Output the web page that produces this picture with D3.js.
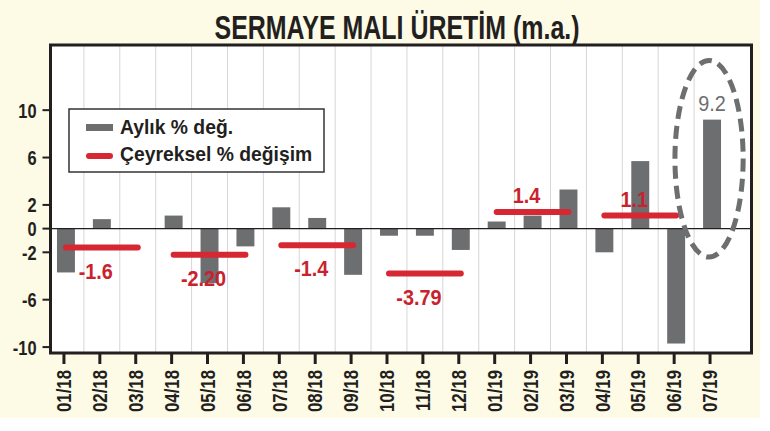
<!DOCTYPE html>
<html>
<head>
<meta charset="utf-8">
<script src="https://cdn.jsdelivr.net/npm/d3@7"></script>
<style>
  html, body { margin: 0; padding: 0; background: #ffffff; }
  svg { display: block; }
</style>
</head>
<body>
<svg id="chart" width="770" height="431"></svg>
<script>
// ---- data ----
const title = "SERMAYE MALI ÜRETİM (m.a.)";
const months = ["01/18","02/18","03/18","04/18","05/18","06/18","07/18","08/18","09/18",
                "10/18","11/18","12/18","01/19","02/19","03/19","04/19","05/19","06/19","07/19"];
const monthlyChange = [-3.7, 0.8, 0, 1.1, -4.6, -1.5, 1.8, 0.9, -3.9,
                       -0.6, -0.6, -1.8, 0.6, 1.1, 3.3, -2.0, 5.7, -9.7, 9.2];
const quarterStart = ["01/18","04/18","07/18","10/18","01/19","04/19"];
const quarterEnd   = ["03/18","06/18","09/18","12/18","03/19","06/19"];
const quarterValue = [-1.6, -2.2, -1.4, -3.79, 1.4, 1.1];
const quarterLabel = ["-1.6", "-2.20", "-1.4", "-3.79", "1.4", "1.1"];
const yTicks = [10, 6, 2, 0, -2, -6, -10];
const legendLabels = ["Aylık % değ.", "Çeyreksel % değişim"];
const highlightMonth = "07/19";
const highlightLabel = "9.2";
const highlightSpan = [14.2, -2.4]; // ellipse extent in data units

// ---- layout ----
const svg = d3.select("#chart");
const frame = { left: 50.5, right: 751.5, top: 45, bottom: 353 };
const GRAY = "#6d6e70", RED = "#d62832", REDTXT = "#c9222d", INK = "#231f20";
const sans = "'Liberation Sans', Arial, sans-serif";

// condense text horizontally (narrow display face look)
function condense(sel, f) {
  sel.each(function () {
    const w = this.getComputedTextLength();
    d3.select(this).attr("textLength", w * f).attr("lengthAdjust", "spacingAndGlyphs");
  });
}

svg.append("rect").attr("x", 0).attr("y", 0).attr("width", 760).attr("height", 418)
   .attr("fill", "#fdfae6");

const x = d3.scaleBand().domain(months).range([48, 730]).paddingInner(0.5).paddingOuter(0.25);
const y = d3.scaleLinear().domain([-10.5, 15.5]).range([frame.bottom, frame.top]);
const cx = m => x(m) + x.bandwidth() / 2;

// plot background
svg.append("rect")
  .attr("x", frame.left).attr("y", frame.top)
  .attr("width", frame.right - frame.left).attr("height", frame.bottom - frame.top)
  .attr("fill", "#ffffff");

// vertical gridlines between months
svg.append("g").selectAll("line")
  .data(months.slice(1))
  .join("line")
  .attr("x1", d => x(d) - x.step() * x.paddingInner() / 2)
  .attr("x2", d => x(d) - x.step() * x.paddingInner() / 2)
  .attr("y1", frame.top).attr("y2", frame.bottom)
  .attr("stroke", "#d6d6d6").attr("stroke-width", 1);

// bars
svg.append("g").selectAll("rect")
  .data(months.map((m, i) => ({ m, v: monthlyChange[i] })))
  .join("rect")
  .attr("x", d => x(d.m))
  .attr("width", x.bandwidth())
  .attr("y", d => y(Math.max(0, d.v)))
  .attr("height", d => Math.abs(y(d.v) - y(0)))
  .attr("fill", GRAY);

// zero line
svg.append("line")
  .attr("x1", frame.left).attr("x2", frame.right)
  .attr("y1", y(0)).attr("y2", y(0))
  .attr("stroke", INK).attr("stroke-width", 1.2);

// quarterly lines
const quarters = quarterValue.map((v, i) => ({ s: quarterStart[i], e: quarterEnd[i], v, label: quarterLabel[i],
  mid: months[months.indexOf(quarterStart[i]) + 1] }));
svg.append("g").selectAll("line")
  .data(quarters)
  .join("line")
  .attr("x1", d => cx(d.s)).attr("x2", d => cx(d.e))
  .attr("y1", d => y(d.v)).attr("y2", d => y(d.v))
  .attr("stroke", RED).attr("stroke-width", 6).attr("stroke-linecap", "round");

svg.append("g").selectAll("text")
  .data(quarters)
  .join("text")
  .attr("x", d => cx(d.mid) - 6)
  .attr("y", d => d.v < 0 ? y(d.v) + 31 : y(d.v) - 9)
  .attr("text-anchor", "middle")
  .attr("font-family", sans).attr("font-weight", "bold").attr("font-size", 22)
  .attr("fill", REDTXT)
  .text(d => d.label)
  .call(condense, 0.9);

// highlight ellipse and label
const hv = monthlyChange[months.indexOf(highlightMonth)];
svg.append("text")
  .attr("x", cx(highlightMonth)).attr("y", y(hv) - 9)
  .attr("text-anchor", "middle")
  .attr("font-family", sans).attr("font-size", 22)
  .attr("fill", GRAY)
  .text(highlightLabel)
  .call(condense, 0.9);
svg.append("ellipse")
  .attr("cx", cx(highlightMonth) - 3)
  .attr("cy", (y(highlightSpan[0]) + y(highlightSpan[1])) / 2)
  .attr("rx", x.step() * 0.95)
  .attr("ry", (y(highlightSpan[1]) - y(highlightSpan[0])) / 2)
  .attr("fill", "none").attr("stroke", GRAY).attr("stroke-width", 5)
  .attr("stroke-dasharray", "13 7");

// frame
svg.append("rect")
  .attr("x", frame.left).attr("y", frame.top)
  .attr("width", frame.right - frame.left).attr("height", frame.bottom - frame.top)
  .attr("fill", "none").attr("stroke", INK).attr("stroke-width", 3);

// y axis ticks and labels
const yg = svg.append("g");
yg.selectAll("line").data(yTicks).join("line")
  .attr("x1", frame.left - 8).attr("x2", frame.left)
  .attr("y1", d => y(d)).attr("y2", d => y(d))
  .attr("stroke", INK).attr("stroke-width", 2);
yg.selectAll("text").data(yTicks).join("text")
  .attr("x", frame.left - 14).attr("y", d => y(d)).attr("dy", "0.36em")
  .attr("text-anchor", "end")
  .attr("font-family", sans).attr("font-weight", "bold").attr("font-size", 21)
  .attr("fill", INK)
  .text(d => d)
  .call(condense, 0.78);

// x axis ticks and labels
const xg = svg.append("g");
xg.selectAll("line").data(months).join("line")
  .attr("x1", d => cx(d) - 2).attr("x2", d => cx(d) - 2)
  .attr("y1", frame.bottom).attr("y2", frame.bottom + 11)
  .attr("stroke", INK).attr("stroke-width", 3);
xg.selectAll("text").data(months).join("text")
  .attr("transform", d => `translate(${cx(d) - 2},${frame.bottom + 17}) rotate(-90)`)
  .attr("dy", "0.36em")
  .attr("text-anchor", "end")
  .attr("font-family", sans).attr("font-weight", "bold").attr("font-size", 20)
  .attr("fill", INK)
  .text(d => d)
  .call(condense, 0.84);

// legend
const lg = svg.append("g");
lg.append("rect").attr("x", 69).attr("y", 109).attr("width", 255).attr("height", 63)
  .attr("fill", "#ffffff").attr("stroke", "#333333").attr("stroke-width", 1.5);
lg.append("rect").attr("x", 86).attr("y", 124).attr("width", 27).attr("height", 7).attr("fill", GRAY);
lg.append("line").attr("x1", 89).attr("x2", 110).attr("y1", 156).attr("y2", 156)
  .attr("stroke", RED).attr("stroke-width", 6).attr("stroke-linecap", "round");
lg.selectAll("text").data(legendLabels).join("text")
  .attr("x", 120).attr("y", (d, i) => 134 + i * 27)
  .attr("font-family", sans).attr("font-weight", "bold").attr("font-size", 21)
  .attr("fill", INK)
  .text(d => d)
  .call(condense, 0.92);

// title
svg.append("text")
  .attr("x", 397).attr("y", 39)
  .attr("text-anchor", "middle")
  .attr("font-family", sans).attr("font-weight", "bold").attr("font-size", 33)
  .attr("textLength", 365).attr("lengthAdjust", "spacingAndGlyphs")
  .attr("fill", INK)
  .text(title);
</script>
</body>
</html>
